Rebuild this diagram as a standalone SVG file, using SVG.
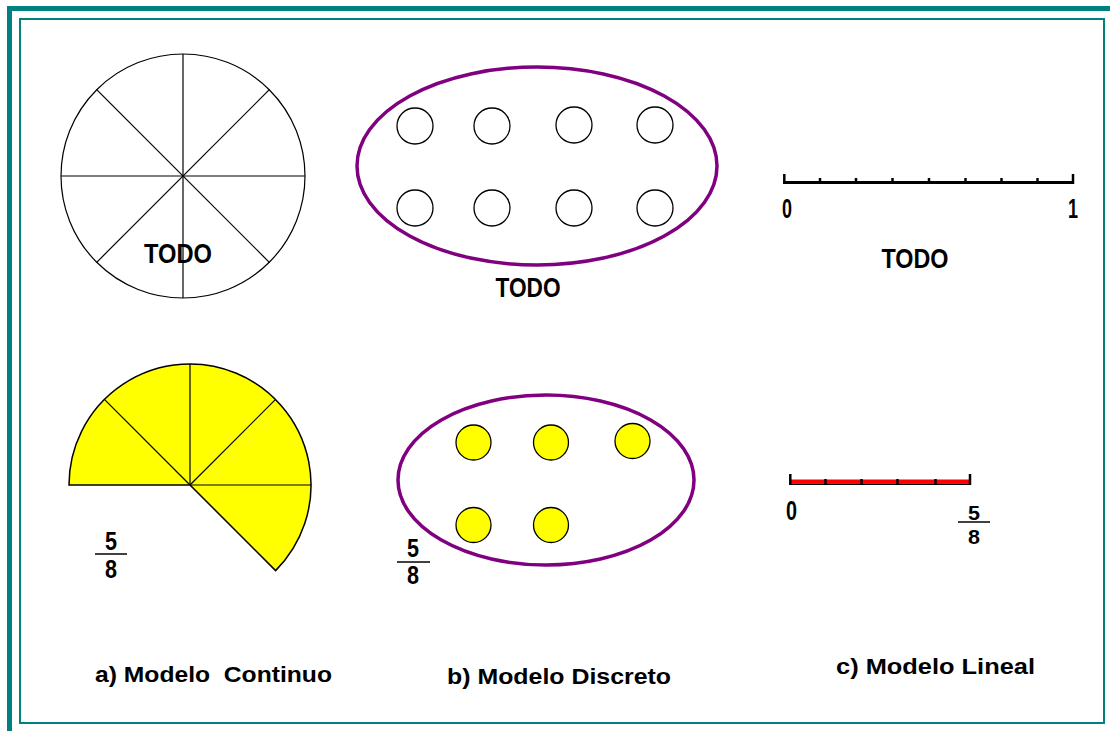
<svg xmlns="http://www.w3.org/2000/svg" width="1110" height="731" viewBox="0 0 1110 731">
<style>
.frame{fill:none;stroke:#008080}
.thin{fill:none;stroke:#000;stroke-width:1.2}
.pie{fill:#ffff00;stroke:#000;stroke-width:1.5}
.purple{fill:none;stroke:#800080;stroke-width:3.5}
.dot{fill:#fff;stroke:#000;stroke-width:1.3}
.ydot{fill:#ffff00;stroke:#000;stroke-width:1.3}
.tick{stroke:#000;stroke-width:2.5}
text{font-family:"Liberation Sans",Arial,sans-serif;font-weight:bold;fill:#000}
.big{font-size:27px}
.cap{font-size:22px}
.frac{font-size:25px}
.fracs{font-size:21px}
</style>
<rect x="0" y="0" width="1110" height="731" fill="#fff"/>
<g id="frame">
<line x1="7" y1="8.5" x2="1110" y2="8.5" class="frame" stroke-width="5"/>
<line x1="9.5" y1="6" x2="9.5" y2="731" class="frame" stroke-width="5"/>
<rect x="20" y="19" width="1084" height="704" class="frame" stroke-width="2"/>
</g>

<g id="continuo-todo">
<circle cx="183" cy="176" r="122" class="thin"/>
<line x1="61" y1="176" x2="305" y2="176" class="thin"/>
<line x1="183" y1="54" x2="183" y2="298" class="thin"/>
<line x1="96.7" y1="89.7" x2="269.3" y2="262.3" class="thin"/>
<line x1="269.3" y1="89.7" x2="96.7" y2="262.3" class="thin"/>
<text x="178" y="263" class="big" text-anchor="middle" textLength="68" lengthAdjust="spacingAndGlyphs">TODO</text>
</g>

<g id="continuo-parte">
<path d="M190,485 L69,485 A121,121 0 1 1 275.6,570.6 Z" class="pie"/>
<line x1="190" y1="485" x2="311" y2="485" class="thin" stroke-width="1.5"/>
<line x1="190" y1="485" x2="190" y2="364" class="thin" stroke-width="1.5"/>
<line x1="190" y1="485" x2="104.4" y2="399.4" class="thin" stroke-width="1.5"/>
<line x1="190" y1="485" x2="275.6" y2="399.4" class="thin" stroke-width="1.5"/>
<text x="111" y="550" class="frac" text-anchor="middle" textLength="12" lengthAdjust="spacingAndGlyphs">5</text>
<line x1="95" y1="554" x2="127" y2="554" stroke="#000" stroke-width="1.5"/>
<text x="111" y="578" class="frac" text-anchor="middle" textLength="12" lengthAdjust="spacingAndGlyphs">8</text>
</g>

<g id="discreto-todo">
<ellipse cx="537" cy="166" rx="180" ry="99" class="purple"/>
<circle cx="415" cy="126" r="18" class="dot"/>
<circle cx="492" cy="126" r="18" class="dot"/>
<circle cx="574" cy="125" r="18" class="dot"/>
<circle cx="655" cy="125" r="18" class="dot"/>
<circle cx="415" cy="208" r="18" class="dot"/>
<circle cx="492" cy="208" r="18" class="dot"/>
<circle cx="574" cy="208" r="18" class="dot"/>
<circle cx="655" cy="208" r="18" class="dot"/>
<text x="528" y="297" class="big" text-anchor="middle" textLength="65" lengthAdjust="spacingAndGlyphs">TODO</text>
</g>

<g id="discreto-parte">
<ellipse cx="546" cy="480" rx="148" ry="85" class="purple"/>
<circle cx="473.5" cy="442.5" r="17.5" class="ydot"/>
<circle cx="551" cy="442.5" r="17.5" class="ydot"/>
<circle cx="632.5" cy="441" r="17.5" class="ydot"/>
<circle cx="473.5" cy="525" r="17.5" class="ydot"/>
<circle cx="551" cy="525" r="17.5" class="ydot"/>
<text x="413" y="557" class="frac" text-anchor="middle" textLength="12" lengthAdjust="spacingAndGlyphs">5</text>
<line x1="397" y1="562" x2="430" y2="562" stroke="#000" stroke-width="1.5"/>
<text x="413" y="584" class="frac" text-anchor="middle" textLength="12" lengthAdjust="spacingAndGlyphs">8</text>
</g>

<g id="lineal-todo">
<line x1="783.3" y1="182.5" x2="1074" y2="182.5" stroke="#000" stroke-width="3"/>
<line x1="784.3" y1="174" x2="784.3" y2="184" class="tick"/>
<line x1="1073" y1="174" x2="1073" y2="184" class="tick"/>
<line x1="820" y1="178" x2="820" y2="183" class="tick"/>
<line x1="856" y1="178" x2="856" y2="183" class="tick"/>
<line x1="892.5" y1="178" x2="892.5" y2="183" class="tick"/>
<line x1="929" y1="178" x2="929" y2="183" class="tick"/>
<line x1="965.5" y1="178" x2="965.5" y2="183" class="tick"/>
<line x1="1001.5" y1="178" x2="1001.5" y2="183" class="tick"/>
<line x1="1037.5" y1="178" x2="1037.5" y2="183" class="tick"/>
<text x="787" y="218" class="big" text-anchor="middle" textLength="10" lengthAdjust="spacingAndGlyphs">0</text>
<text x="1073" y="218" class="big" text-anchor="middle" textLength="10" lengthAdjust="spacingAndGlyphs">1</text>
<text x="915" y="268" class="big" text-anchor="middle" textLength="67" lengthAdjust="spacingAndGlyphs">TODO</text>
</g>

<g id="lineal-parte">
<line x1="789.3" y1="481.5" x2="970.7" y2="481.5" stroke="#ff0000" stroke-width="4"/>
<line x1="789.3" y1="484.3" x2="970.7" y2="484.3" stroke="#000" stroke-width="1.6"/>
<line x1="790.3" y1="474" x2="790.3" y2="485" class="tick"/>
<line x1="970" y1="474" x2="970" y2="485" class="tick"/>
<line x1="825.5" y1="479" x2="825.5" y2="485" class="tick"/>
<line x1="861.5" y1="479" x2="861.5" y2="485" class="tick"/>
<line x1="897.5" y1="479" x2="897.5" y2="485" class="tick"/>
<line x1="935.5" y1="479" x2="935.5" y2="485" class="tick"/>
<text x="791.5" y="519.5" class="big" text-anchor="middle" textLength="11" lengthAdjust="spacingAndGlyphs">0</text>
<text x="974" y="519.5" class="fracs" text-anchor="middle" textLength="12" lengthAdjust="spacingAndGlyphs">5</text>
<line x1="958" y1="522" x2="990" y2="522" stroke="#000" stroke-width="1.5"/>
<text x="974" y="544" class="fracs" text-anchor="middle" textLength="12" lengthAdjust="spacingAndGlyphs">8</text>
</g>

<g id="captions">
<text x="95" y="682" class="cap" textLength="237" lengthAdjust="spacingAndGlyphs" xml:space="preserve">a) Modelo  Continuo</text>
<text x="447" y="684" class="cap" textLength="224" lengthAdjust="spacingAndGlyphs">b) Modelo Discreto</text>
<text x="836" y="674" class="cap" textLength="199" lengthAdjust="spacingAndGlyphs">c) Modelo Lineal</text>
</g>
</svg>
